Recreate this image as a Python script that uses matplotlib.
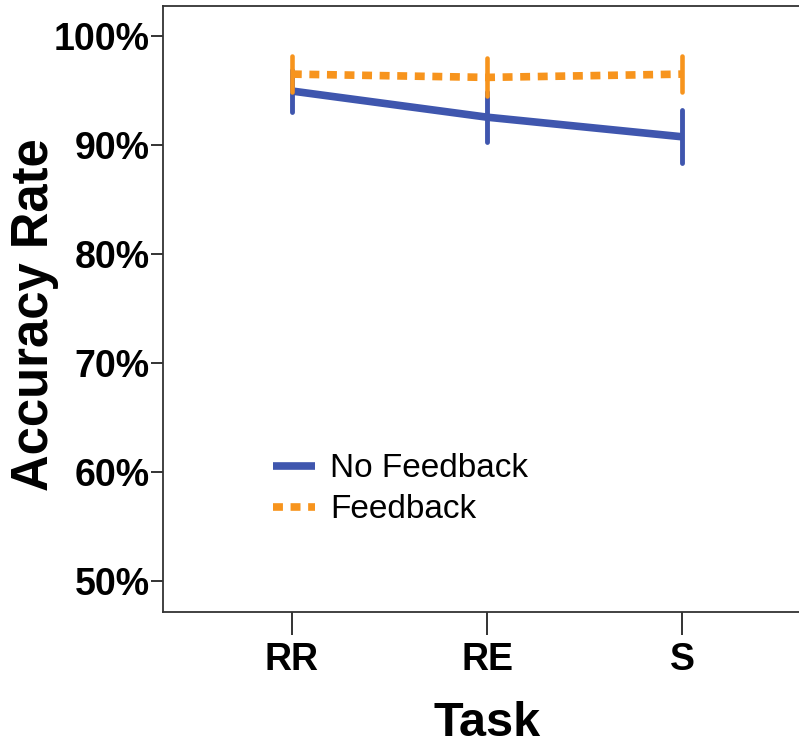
import numpy as np
import matplotlib
matplotlib.use('Agg')
import matplotlib.pyplot as plt

plt.rcParams['font.family'] = ['Liberation Sans', 'DejaVu Sans']

tasks = ['RR', 'RE', 'S']
no_fb = [94.95, 92.55, 90.75]   # mean accuracy, no feedback
no_fb_err = [1.93, 2.3, 2.43]
fb = [96.5, 96.2, 96.5]         # mean accuracy, feedback
fb_err = [1.62, 1.74, 1.65]

blue = '#3F56AE'
orange = '#F7941D'

fig = plt.figure(figsize=(7.99, 7.53), dpi=100)
# axes runs a little past the right edge, like the original crop
ax = fig.add_axes([163/799, 1-612/753, 648/799, 606/753])

x = np.arange(len(tasks))

ax.plot(x, no_fb, color=blue, lw=5.5, solid_capstyle='butt', label='No Feedback', zorder=3)
eb1 = ax.errorbar(x, no_fb, yerr=no_fb_err, fmt='none', ecolor=blue, elinewidth=3.5, capsize=0, zorder=3)
eb1[2][0].set_capstyle('round')

ax.plot(x, fb, color=orange, lw=5.5, linestyle=(0, (1.3, 1.0)), dash_capstyle='butt',
        label='Feedback', zorder=4)
eb2 = ax.errorbar(x, fb, yerr=fb_err, fmt='none', ecolor=orange, elinewidth=3.3, capsize=0, zorder=4)
eb2[2][0].set_capstyle('round')

ax.set_xlim(-0.66, 2.66)
ax.set_ylim(47.15, 102.75)
ax.set_xticks(x)
ax.set_xticklabels(tasks)
ax.set_yticks([50, 60, 70, 80, 90, 100])
ax.set_yticklabels(['50%', '60%', '70%', '80%', '90%', '100%'])

for s in ax.spines.values():
    s.set_linewidth(1.3)
    s.set_color('#333333')

ax.tick_params(axis='y', length=8.6, width=1.4, color='#333333', pad=1, labelsize=27)
ax.tick_params(axis='x', length=16.5, width=1.4, color='#333333', pad=5, labelsize=27)
for lab in ax.get_xticklabels() + ax.get_yticklabels():
    lab.set_fontweight('bold')

ax.set_xlabel('Task', fontsize=35, fontweight='bold', labelpad=17)
ax.set_ylabel('Accuracy Rate', fontsize=36.5, fontweight='bold', va='center')
ax.yaxis.set_label_coords(-0.198, 0.49)

ax.legend(loc='upper left', bbox_to_anchor=(0.17, 0.262), frameon=False, fontsize=24,
          handlelength=1.25, handletextpad=0.45, labelspacing=0.3, borderpad=0, borderaxespad=0)

fig.savefig('out.png', dpi=100)
